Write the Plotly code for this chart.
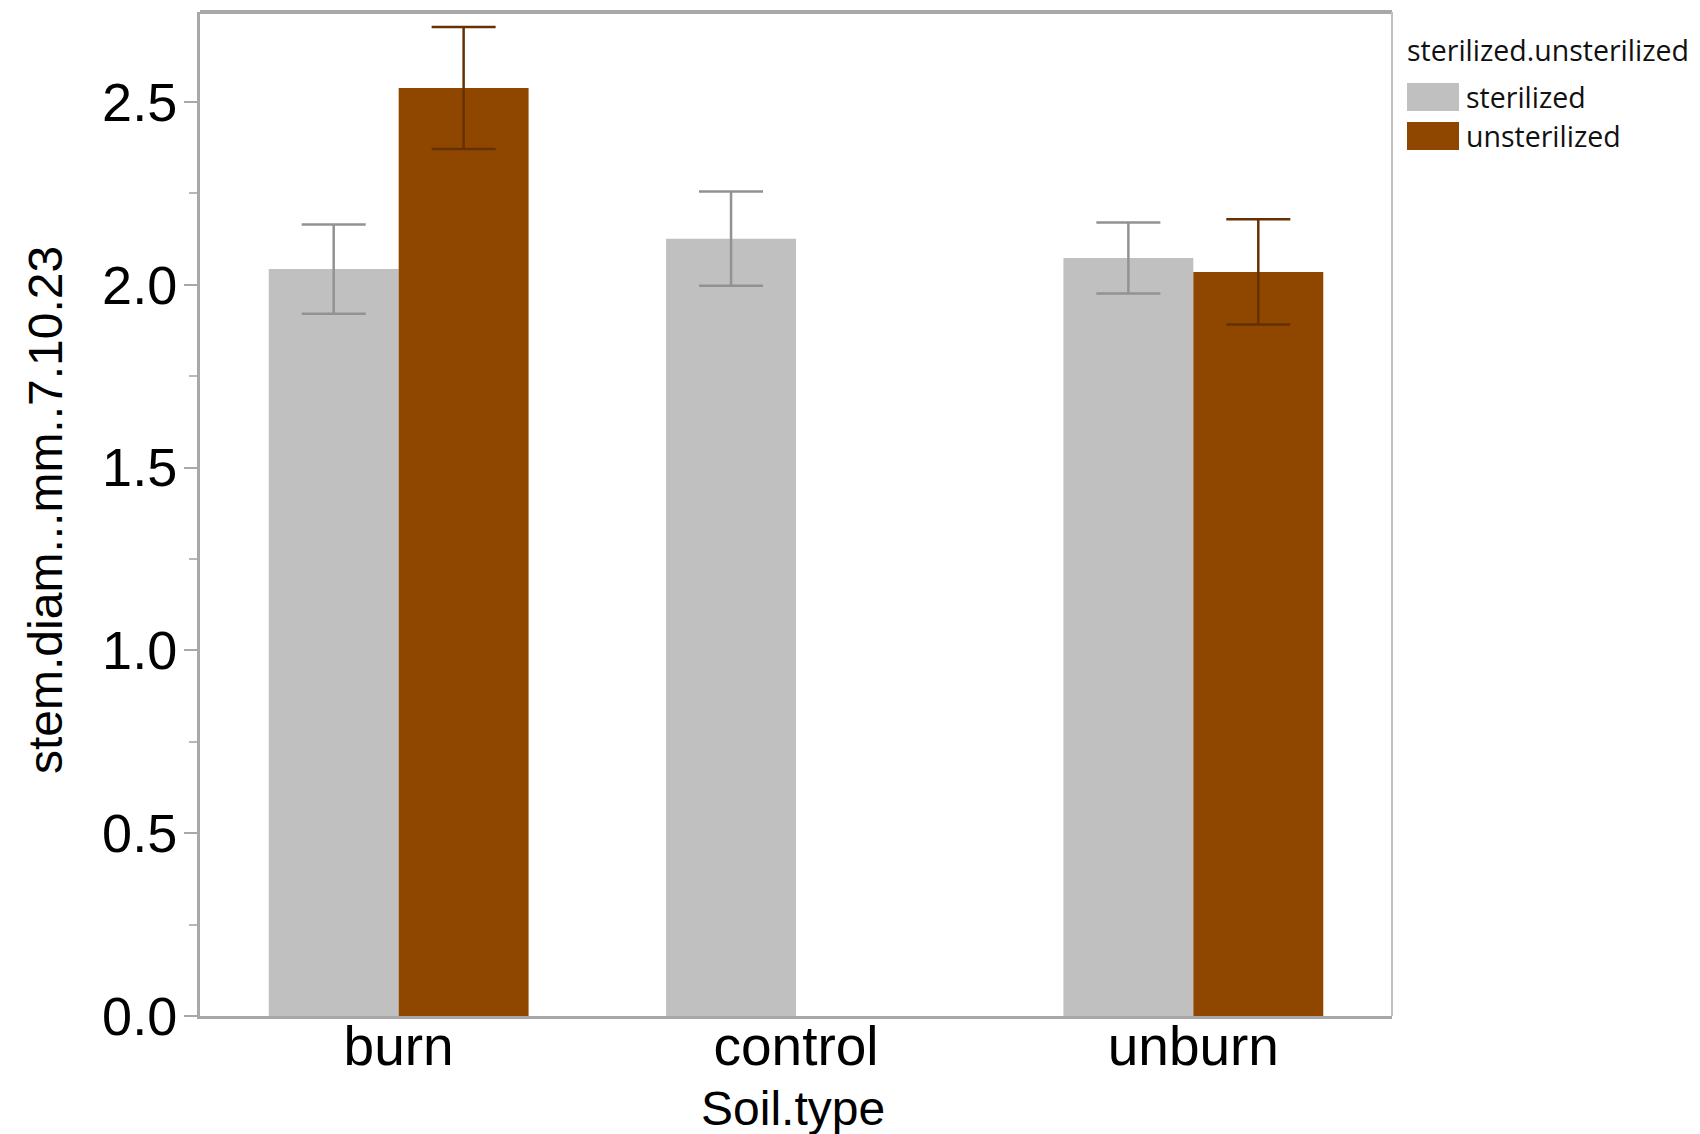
import plotly.graph_objects as go

soil_types = ["burn", "control", "unburn"]
sterilized_mean = [2.043, 2.126, 2.073]
sterilized_err = [0.122, 0.129, 0.097]
unsterilized_mean = [2.538, None, 2.035]
unsterilized_err = [0.167, None, 0.144]
legend_title = "sterilized.unsterilized"
series_names = ["sterilized", "unsterilized"]
series_colors = ["#C0C0C0", "#8F4700"]
err_colors = ["#929292", "#653100"]
y_title = "stem.diam...mm..7.10.23"
x_title = "Soil.type"

fig = go.Figure()
for name, vals, errs, col, ecol in [
    (series_names[0], sterilized_mean, sterilized_err, series_colors[0], err_colors[0]),
    (series_names[1], unsterilized_mean, unsterilized_err, series_colors[1], err_colors[1]),
]:
    fig.add_trace(go.Bar(
        x=soil_types, y=vals, name=name,
        marker=dict(color=col, line=dict(width=0)),
        error_y=dict(type="data", array=errs, visible=True, color=ecol,
                     thickness=2.5, width=32),
        showlegend=False,
    ))

W, H = 1700, 1134
L, R, T, B = 200, 1392, 12, 1016
fig.update_layout(
    width=W, height=H,
    margin=dict(l=L, r=W - R, t=T, b=H - B),
    paper_bgcolor="white", plot_bgcolor="white",
    barmode="group", bargap=0.346, bargroupgap=0,
    font=dict(family="Liberation Sans, Arial", color="black"),
)
fig.update_xaxes(
    range=[-0.5, 2.5], showline=True, linecolor="#A8A8A8", linewidth=3,
    ticks="", tickfont=dict(size=55, family="Liberation Sans, Arial"),
    ticklabelstandoff=-20,
    automargin=False, showgrid=False, zeroline=False,
)
fig.update_yaxes(
    range=[0, 2.746], showline=True, linecolor="#A8A8A8", linewidth=3,
    tickvals=[0, 0.5, 1.0, 1.5, 2.0, 2.5], ticktext=["0.0", "0.5", "1.0", "1.5", "2.0", "2.5"],
    ticks="outside", ticklen=13, tickwidth=2, tickcolor="#A8A8A8",
    minor=dict(tickvals=[0.25, 0.75, 1.25, 1.75, 2.25], ticks="outside", ticklen=8,
               tickwidth=2, tickcolor="#B8B8B8"),
    tickfont=dict(size=54, family="Liberation Sans, Arial"),
    ticklabelstandoff=-4,
    automargin=False, showgrid=False, zeroline=False,
)

# plot border (top and right)
fig.add_shape(type="line", xref="paper", yref="paper", x0=0, x1=1, y0=1, y1=1,
              line=dict(color="#A8A8A8", width=4))
fig.add_shape(type="line", xref="paper", yref="paper", x0=1, x1=1, y0=0, y1=1,
              line=dict(color="#C0C0C0", width=2))

def px_x(x):
    return (x - L) / (R - L)

def px_y(y):
    return (B - y) / (B - T)

# axis titles
fig.add_annotation(xref="paper", yref="paper", x=px_x(793), y=px_y(1108),
                   text=x_title, showarrow=False, xanchor="center", yanchor="middle",
                   font=dict(size=48, family="Liberation Sans, Arial", color="black"))
fig.add_annotation(xref="paper", yref="paper", x=px_x(45), y=px_y(510),
                   text=y_title, showarrow=False, xanchor="center", yanchor="middle",
                   textangle=-90,
                   font=dict(size=48, family="Liberation Sans, Arial", color="black"))

# manual legend
fig.add_annotation(xref="paper", yref="paper", x=px_x(1405), y=px_y(50),
                   text=legend_title, showarrow=False, xanchor="left", yanchor="middle",
                   font=dict(family="Open Sans", size=28.5, color="#111111"))
for i, (name, col) in enumerate(zip(series_names, series_colors)):
    y0 = 83 + i * 39
    fig.add_shape(type="rect", xref="paper", yref="paper",
                  x0=px_x(1407), x1=px_x(1459), y0=px_y(y0 + 28), y1=px_y(y0),
                  fillcolor=col, line=dict(width=0))
    fig.add_annotation(xref="paper", yref="paper", x=px_x(1464), y=px_y(y0 + 14),
                       text=name, showarrow=False, xanchor="left", yanchor="middle",
                       font=dict(family="Open Sans", size=28.5, color="#111111"))

fig.write_html("out.html")
